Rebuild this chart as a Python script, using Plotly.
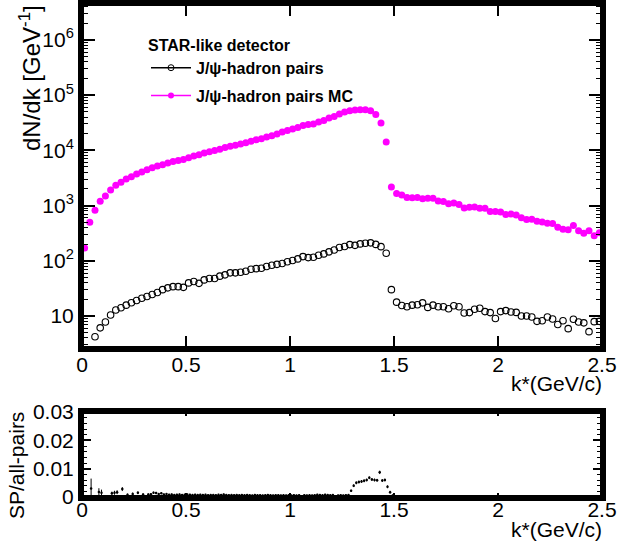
import numpy as np
import plotly.graph_objects as go

# ---------------- data ----------------
k_min, k_max = 0.0, 2.5
n_bins_main = 100          # bin width 0.025 GeV/c
n_bins_ratio = 120         # bin width 0.0125 GeV/c, 0 - 1.5 GeV/c

pairs = [None, None, 4.2, 6.1, 7.8, 10.4, 12.8, 14.1, 15.7, 17.4,
         19.1, 21, 22.5, 24.5, 26.6, 30, 32.3, 34, 34, 33,
         39.7, 42, 39, 45, 47.6, 47.6, 52.6, 55.6, 60.4, 60.4,
         62, 64.5, 70, 72, 73, 78.5, 83, 86, 89, 96,
         101, 108, 119, 114, 116, 126, 133, 145, 157, 174,
         181, 196, 190, 202, 208, 211, 198, 180, 137, 30,
         17.8, 15.5, 14.7, 15.7, 16, 17.3, 14.3, 15.7, 14.7, 14.7,
         13.5, 15.3, 14.7, 11.3, 11.5, 13.2, 13.8, 12, 11.5, 9.0,
         12, 12.5, 11.8, 11.6, 10, 10, 9.6, 8.0, 8.2, 9.6,
         8.8, 7.0, 8.2, 5.9, 8.7, 7.8, 7.5, 5.2, 7.9, 8]

pairs_mc = [171, 500, 819, 1190, 1490, 1910, 2320, 2630, 3020, 3320,
            3710, 4040, 4450, 4840, 5200, 5500, 5890, 6300, 6560, 6840,
            7340, 7870, 8320, 8920, 9440, 9950, 10500, 11300, 11900, 12300,
            13000, 13700, 14600, 15600, 16200, 17400, 18400, 19700, 21400, 22900,
            24300, 25900, 28200, 29400, 29900, 32500, 34700, 38300, 41000, 45300,
            49300, 52000, 53600, 54200, 54200, 52000, 44700, 31200, 14100, 2170,
            1660, 1550, 1400, 1380, 1400, 1330, 1350, 1350, 1210, 1180,
            1080, 1110, 1040, 900, 930, 945, 890, 890, 776, 776,
            760, 690, 700, 675, 600, 556, 565, 518, 505, 480,
            475, 404, 372, 365, 435, 348, 315, 348, 284, 322]

ratio = [None, None, None, 0.003, None, None, 0.0018, 0.0015, None, None,
         None, 0.0013, 0.0015, 0.0017, None, 0.0028, None, 0.0008, None, 0.0011,
         None, 0.0015, None, 0.0009, None, 0.0009, 0.0010, 0.0015, 0.0014, 0.0011,
         0.0013, 0.0009, 0.0011, 0.0008, 0.0009, 0.0007, 0.0008, 0.0009, 0.0007, 0.0008,
         0.0009, 0.0008, 0.0007, 0.0008, 0.0007, 0.0008, 0.0007, 0.0008, 0.0006, 0.0007,
         0.0007, 0.0006, 0.0008, 0.0007, 0.0009, 0.0007, 0.0006, 0.0007, 0.0006, 0.0007,
         0.0006, 0.0007, 0.0006, 0.0007, 0.0006, 0.0005, 0.0007, 0.0006, 0.0006, 0.0005,
         0.0006, 0.0007, 0.0006, 0.0005, 0.0006, 0.0006, 0.0005, 0.0006, 0.0005, 0.0006,
         0.0005, 0.0006, 0.0005, 0.0006, None, 0.0006, 0.0005, 0.0006, 0.0005, 0.0006,
         0.0008, 0.0007, 0.0006, 0.0008, 0.0007, 0.0006, 0.0007, None, 0.0005, 0.0006,
         0.0005, 0.0006, 0.0007, 0.0022, 0.0040, 0.0050, 0.0053, 0.0055, 0.0057, 0.0060,
         0.0068, 0.0062, 0.0060, 0.0059, 0.0087, 0.0058, 0.0060, 0.0036, 0.0017, 0.0005]

ratio_err = [0, 0, 0, 0.0035, 0, 0, 0.0013, 0.0011, 0, 0,
             0, 0.0006, 0.0007, 0.0007, 0, 0.0007, 0, 0.0004, 0, 0.0005,
             0, 0.0005, 0, 0.0004, 0, 0.0004, 0.0004, 0.0004, 0.0004, 0.0003,
             0.0003, 0.0003, 0.0003, 0.0003, 0.0003, 0.0003, 0.0003, 0.0003, 0.0003, 0.0003,
             0.0003, 0.0003, 0.0003, 0.0003, 0.0003, 0.0003, 0.0003, 0.0003, 0.0003, 0.0003,
             0.0003, 0.0003, 0.0003, 0.0003, 0.0003, 0.0003, 0.0003, 0.0003, 0.0003, 0.0003,
             0.0003, 0.0003, 0.0003, 0.0003, 0.0003, 0.0003, 0.0003, 0.0003, 0.0003, 0.0003,
             0.0003, 0.0003, 0.0003, 0.0003, 0.0003, 0.0003, 0.0003, 0.0003, 0.0003, 0.0003,
             0.0003, 0.0003, 0.0003, 0.0003, 0, 0.0003, 0.0003, 0.0003, 0.0003, 0.0003,
             0.0003, 0.0003, 0.0003, 0.0003, 0.0003, 0.0003, 0.0003, 0, 0.0003, 0.0003,
             0.0003, 0.0003, 0.0003, 0.0004, 0.0005, 0.0005, 0.0005, 0.0005, 0.0005, 0.0005,
             0.0005, 0.0005, 0.0005, 0.0005, 0.0006, 0.0005, 0.0005, 0.0005, 0.0005, 0.0004]

x_ticks = [0, 0.5, 1, 1.5, 2, 2.5]
x_ticklabels = ["0", "0.5", "1", "1.5", "2", "2.5"]
y_ticks_top = [10, 100, 1e3, 1e4, 1e5, 1e6]
y_ticklabels_top = ["10", "10<sup>2</sup>", "10<sup>3</sup>", "10<sup>4</sup>",
                    "10<sup>5</sup>", "10<sup>6</sup>"]
y_ticks_bot = [0, 0.01, 0.02, 0.03]
y_ticklabels_bot = ["0", "0.01", "0.02", "0.03"]

assert len(pairs) == n_bins_main and len(pairs_mc) == n_bins_main
assert len(ratio) == n_bins_ratio and len(ratio_err) == n_bins_ratio

edges_main = np.linspace(k_min, k_max, n_bins_main + 1)
k_main = 0.5 * (edges_main[:-1] + edges_main[1:])
edges_ratio = np.linspace(0.0, 1.5, n_bins_ratio + 1)
k_ratio = 0.5 * (edges_ratio[:-1] + edges_ratio[1:])

# ---------------- layout geometry ----------------
W, H = 618, 549
FONT = "Liberation Sans, Arial, sans-serif"
px_x = lambda p: p / W
px_y = lambda p: 1 - p / H

MAGENTA = "#ff00ff"

fig = go.Figure()

fig.add_trace(go.Scatter(
    x=k_main, y=pairs, mode="markers", showlegend=False,
    marker=dict(symbol="circle-open", size=6.5, color="black", line=dict(width=1.1)),
    xaxis="x", yaxis="y"))
fig.add_trace(go.Scatter(
    x=k_main, y=pairs_mc, mode="markers", showlegend=False,
    marker=dict(symbol="circle", size=7, color=MAGENTA),
    xaxis="x", yaxis="y"))

# legend-only entries (ROOT style: line + marker)
fig.add_trace(go.Scatter(
    x=[None], y=[None], mode="lines+markers", name="<b>J/ψ-hadron pairs</b>",
    legendgroup="a",
    line=dict(color="black", width=1.5),
    marker=dict(symbol="circle-open", size=6, color="black", line=dict(width=1)),
    xaxis="x", yaxis="y"))
fig.add_trace(go.Scatter(
    x=[None], y=[None], mode="lines+markers", name="<b>J/ψ-hadron pairs MC</b>",
    legendgroup="b",
    line=dict(color=MAGENTA, width=1.5),
    marker=dict(symbol="circle", size=6, color=MAGENTA),
    xaxis="x", yaxis="y"))

fig.add_trace(go.Scatter(
    x=k_ratio, y=ratio, mode="markers", showlegend=False,
    marker=dict(symbol="circle", size=2.5, color="black"),
    error_y=dict(type="data", array=ratio_err, visible=True, color="black",
                 thickness=1, width=0),
    xaxis="x2", yaxis="y2"))

x_dom = [px_x(82), px_x(602)]
axis_common = dict(showline=True, linewidth=4, linecolor="black", mirror="allticks",
                   ticks="inside", tickcolor="black", showgrid=False, zeroline=False,
                   tickfont=dict(family=FONT, size=21, color="black"),
                   automargin=False)

fig.update_layout(
    width=W, height=H,
    margin=dict(l=0, r=0, t=0, b=0),
    paper_bgcolor="white", plot_bgcolor="white",
    font=dict(family=FONT, color="black"),
    xaxis=dict(domain=x_dom, anchor="y", range=[k_min, k_max],
               tickvals=x_ticks, ticktext=x_ticklabels, ticklen=12, tickwidth=1.5,
               ticklabelstandoff=-5, **axis_common),
    yaxis=dict(domain=[px_y(348), px_y(4)], anchor="x", type="log",
               range=[0.42, 6.65], tickvals=y_ticks_top, ticktext=y_ticklabels_top,
               ticklen=13, tickwidth=1.5,
               minor=dict(ticks="inside", ticklen=6, tickcolor="black", tickwidth=1,
                          dtick="D1", showgrid=False),
               **axis_common),
    xaxis2=dict(domain=x_dom, anchor="y2", range=[k_min, k_max],
                tickvals=x_ticks, ticktext=x_ticklabels, ticklen=4, tickwidth=1.5,
                ticklabelstandoff=-9, **axis_common),
    yaxis2=dict(domain=[px_y(497), px_y(412)], anchor="x2", range=[0, 0.03],
                tickvals=y_ticks_bot, ticktext=y_ticklabels_bot, ticklen=9, tickwidth=1.5,
                minor=dict(ticks="inside", ticklen=5, tickcolor="black", tickwidth=1,
                           dtick=0.002, showgrid=False),
                **axis_common),
    legend=dict(x=px_x(146), y=px_y(30), xanchor="left", yanchor="top",
                bgcolor="rgba(0,0,0,0)", borderwidth=0,
                font=dict(family=FONT, size=16, color="black"),
                title=dict(text="<b>STAR-like detector</b>",
                           font=dict(family=FONT, size=16, color="black")),
                tracegroupgap=4, itemwidth=40),
)

# thick ROOT-style frames around both pads
frame = dict(type="rect", x0=0, x1=1, y0=0, y1=1, line=dict(color="black", width=4),
             fillcolor="rgba(0,0,0,0)", layer="above")
fig.add_shape(xref="x domain", yref="y domain", **frame)
fig.add_shape(xref="x2 domain", yref="y2 domain", **frame)

annotations = [
    dict(text="dN/dk [GeV<sup>-1</sup>]", x=px_x(30), y=px_y(3), xref="paper", yref="paper",
         xanchor="center", yanchor="top", textangle=-90, showarrow=False,
         font=dict(family=FONT, size=24, color="black")),
    dict(text="SP/all-pairs", x=px_x(16), y=px_y(466), xref="paper", yref="paper",
         xanchor="center", yanchor="middle", textangle=-90, showarrow=False,
         font=dict(family=FONT, size=21, color="black")),
    dict(text="k*(GeV/c)", x=px_x(604), y=px_y(383), xref="paper", yref="paper",
         xanchor="right", yanchor="middle", showarrow=False,
         font=dict(family=FONT, size=21, color="black")),
    dict(text="k*(GeV/c)", x=px_x(604), y=px_y(529), xref="paper", yref="paper",
         xanchor="right", yanchor="middle", showarrow=False,
         font=dict(family=FONT, size=21, color="black")),
]
fig.update_layout(annotations=annotations)

fig.write_html("out.html")
